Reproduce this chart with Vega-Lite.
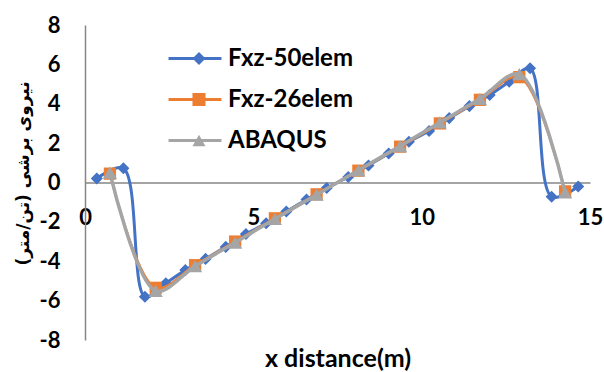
{
  "$schema": "https://vega.github.io/schema/vega-lite/v6.json",
  "width": 505,
  "height": 315,
  "autosize": "none",
  "padding": {"left": 85, "top": 25, "right": 14, "bottom": 32},
  "config": {"view": {"stroke": null}, "font": "Lato"},
  "data": {
    "values": [
      {"s": "Fxz-50elem", "x": 0.35, "y": 0.2},
      {"s": "Fxz-50elem", "x": 1.14, "y": 0.72},
      {"s": "Fxz-50elem", "x": 1.78, "y": -5.8},
      {"s": "Fxz-50elem", "x": 2.4, "y": -5.12},
      {"s": "Fxz-50elem", "x": 2.98, "y": -4.45},
      {"s": "Fxz-50elem", "x": 3.58, "y": -3.88},
      {"s": "Fxz-50elem", "x": 4.18, "y": -3.27},
      {"s": "Fxz-50elem", "x": 4.78, "y": -2.62},
      {"s": "Fxz-50elem", "x": 5.38, "y": -2.07},
      {"s": "Fxz-50elem", "x": 5.98, "y": -1.47},
      {"s": "Fxz-50elem", "x": 6.58, "y": -0.86},
      {"s": "Fxz-50elem", "x": 7.18, "y": -0.28},
      {"s": "Fxz-50elem", "x": 7.82, "y": 0.28},
      {"s": "Fxz-50elem", "x": 8.42, "y": 0.86},
      {"s": "Fxz-50elem", "x": 9.02, "y": 1.47},
      {"s": "Fxz-50elem", "x": 9.62, "y": 2.07},
      {"s": "Fxz-50elem", "x": 10.22, "y": 2.62},
      {"s": "Fxz-50elem", "x": 10.82, "y": 3.27},
      {"s": "Fxz-50elem", "x": 11.42, "y": 3.88},
      {"s": "Fxz-50elem", "x": 12.02, "y": 4.45},
      {"s": "Fxz-50elem", "x": 12.6, "y": 5.12},
      {"s": "Fxz-50elem", "x": 13.22, "y": 5.8},
      {"s": "Fxz-50elem", "x": 13.86, "y": -0.72},
      {"s": "Fxz-50elem", "x": 14.65, "y": -0.2},
      {"s": "Fxz-26elem", "x": 0.74, "y": 0.45},
      {"s": "Fxz-26elem", "x": 2.1, "y": -5.35},
      {"s": "Fxz-26elem", "x": 3.27, "y": -4.2},
      {"s": "Fxz-26elem", "x": 4.46, "y": -3.0},
      {"s": "Fxz-26elem", "x": 5.64, "y": -1.82},
      {"s": "Fxz-26elem", "x": 6.88, "y": -0.6},
      {"s": "Fxz-26elem", "x": 8.12, "y": 0.6},
      {"s": "Fxz-26elem", "x": 9.36, "y": 1.82},
      {"s": "Fxz-26elem", "x": 10.54, "y": 3.0},
      {"s": "Fxz-26elem", "x": 11.73, "y": 4.2},
      {"s": "Fxz-26elem", "x": 12.9, "y": 5.35},
      {"s": "Fxz-26elem", "x": 14.26, "y": -0.45},
      {"s": "ABAQUS", "x": 0.74, "y": 0.5},
      {"s": "ABAQUS", "x": 2.1, "y": -5.5},
      {"s": "ABAQUS", "x": 3.27, "y": -4.25},
      {"s": "ABAQUS", "x": 4.46, "y": -3.05},
      {"s": "ABAQUS", "x": 5.64, "y": -1.85},
      {"s": "ABAQUS", "x": 6.88, "y": -0.62},
      {"s": "ABAQUS", "x": 8.12, "y": 0.62},
      {"s": "ABAQUS", "x": 9.36, "y": 1.85},
      {"s": "ABAQUS", "x": 10.54, "y": 3.05},
      {"s": "ABAQUS", "x": 11.73, "y": 4.25},
      {"s": "ABAQUS", "x": 12.9, "y": 5.5},
      {"s": "ABAQUS", "x": 14.26, "y": -0.5}
    ]
  },
  "encoding": {
    "x": {
      "field": "x", "type": "quantitative",
      "scale": {"domain": [0, 15], "nice": false, "zero": false},
      "axis": {
        "title": "x distance(m)", "values": [0, 5, 10, 15], "grid": false,
        "ticks": false, "tickSize": 0, "offset": -157.5,
        "domainColor": "#868686", "domainWidth": 1.5,
        "labelExpr": "'' + datum.value",
        "labelFont": "Lato", "labelFontSize": 22, "labelFontWeight": "bold", "labelColor": "#000000",
        "labelPadding": 35, "labelBaseline": "middle", "labelFlush": false, "labelOverlap": false,
        "titleFont": "Lato", "titleFontSize": 25, "titleFontWeight": "bold", "titleColor": "#000000",
        "titleY": 184, "titleBaseline": "alphabetic"
      }
    },
    "y": {
      "field": "y", "type": "quantitative",
      "scale": {"domain": [-8, 8], "nice": false},
      "axis": {
        "title": "نیروی برشی (تن/متر)", "values": [-8, -6, -4, -2, 0, 2, 4, 6, 8], "grid": false,
        "ticks": false, "tickSize": 0,
        "domainColor": "#868686", "domainWidth": 1.5,
        "labelExpr": "'' + datum.value",
        "labelFont": "Lato", "labelFontSize": 22, "labelFontWeight": "bold", "labelColor": "#000000",
        "labelPadding": 25, "labelOverlap": false, "labelFlush": false,
        "titleFont": "DejaVu Sans", "titleFontSize": 17, "titleFontWeight": "bold", "titleColor": "#000000",
        "titleX": -62, "titleY": 148, "titleAlign": "center", "titleBaseline": "middle", "titleAngle": -90
      }
    }
  },
  "layer": [
    {
      "transform": [{"filter": "datum.s === 'Fxz-50elem'"}],
      "mark": {"type": "line", "interpolate": "catmull-rom", "strokeWidth": 3},
      "encoding": {
        "color": {
          "field": "s", "type": "nominal",
          "scale": {"domain": ["Fxz-50elem", "Fxz-26elem", "ABAQUS", "-"], "range": ["#4472C4", "#ED7D31", "#A5A5A5", "#000000"]},
          "legend": {
            "orient": "none", "legendX": 98, "legendY": 21.5, "title": null, "padding": 0,
            "values": ["Fxz-50elem", "Fxz-26elem", "ABAQUS"],
            "symbolType": "M-2.94,0H2.94", "symbolSize": 324, "symbolStrokeWidth": 3,
            "labelFont": "Lato", "labelFontSize": 24, "labelFontWeight": "bold", "labelColor": "#000000",
            "labelOffset": 21, "rowPadding": 17
          }
        }
      }
    },
    {
      "transform": [{"filter": "datum.s === 'Fxz-50elem'"}],
      "mark": {"type": "point", "filled": true, "opacity": 1, "size": 145},
      "encoding": {
        "fill": {
          "field": "s", "type": "nominal",
          "scale": {"domain": ["Fxz-50elem", "Fxz-26elem", "ABAQUS"], "range": ["#4472C4", "#ED7D31", "#A5A5A5"]},
          "legend": {
            "orient": "none", "legendX": 102, "legendY": 21.5, "title": null, "padding": 0,
            "symbolSize": 170, "symbolStrokeWidth": 0,
            "labelExpr": "''",
            "labelFont": "Lato", "labelFontSize": 24, "labelFontWeight": "bold", "labelColor": "transparent",
            "rowPadding": 17
          }
        },
        "shape": {
          "field": "s", "type": "nominal",
          "scale": {"domain": ["Fxz-50elem", "Fxz-26elem", "ABAQUS"], "range": ["diamond", "square", "triangle-up"]},
          "legend": {
            "orient": "none", "legendX": 102, "legendY": 21.5, "title": null, "padding": 0,
            "symbolSize": 170, "symbolStrokeWidth": 0,
            "labelExpr": "''",
            "labelFont": "Lato", "labelFontSize": 24, "labelFontWeight": "bold", "labelColor": "transparent",
            "rowPadding": 17
          }
        }
      }
    },
    {
      "transform": [{"filter": "datum.s === 'Fxz-26elem'"}],
      "mark": {"type": "line", "interpolate": "catmull-rom", "strokeWidth": 2.5},
      "encoding": {"color": {"field": "s", "type": "nominal"}}
    },
    {
      "transform": [{"filter": "datum.s === 'Fxz-26elem'"}],
      "mark": {"type": "point", "filled": true, "opacity": 1, "size": 150},
      "encoding": {"fill": {"field": "s", "type": "nominal"}, "shape": {"field": "s", "type": "nominal"}}
    },
    {
      "transform": [{"filter": "datum.s === 'ABAQUS'"}],
      "mark": {"type": "line", "interpolate": "catmull-rom", "strokeWidth": 3.5},
      "encoding": {"color": {"field": "s", "type": "nominal"}}
    },
    {
      "transform": [{"filter": "datum.s === 'ABAQUS'"}],
      "mark": {"type": "point", "filled": true, "opacity": 1, "size": 200},
      "encoding": {"fill": {"field": "s", "type": "nominal"}, "shape": {"field": "s", "type": "nominal"}}
    }
  ]
}
